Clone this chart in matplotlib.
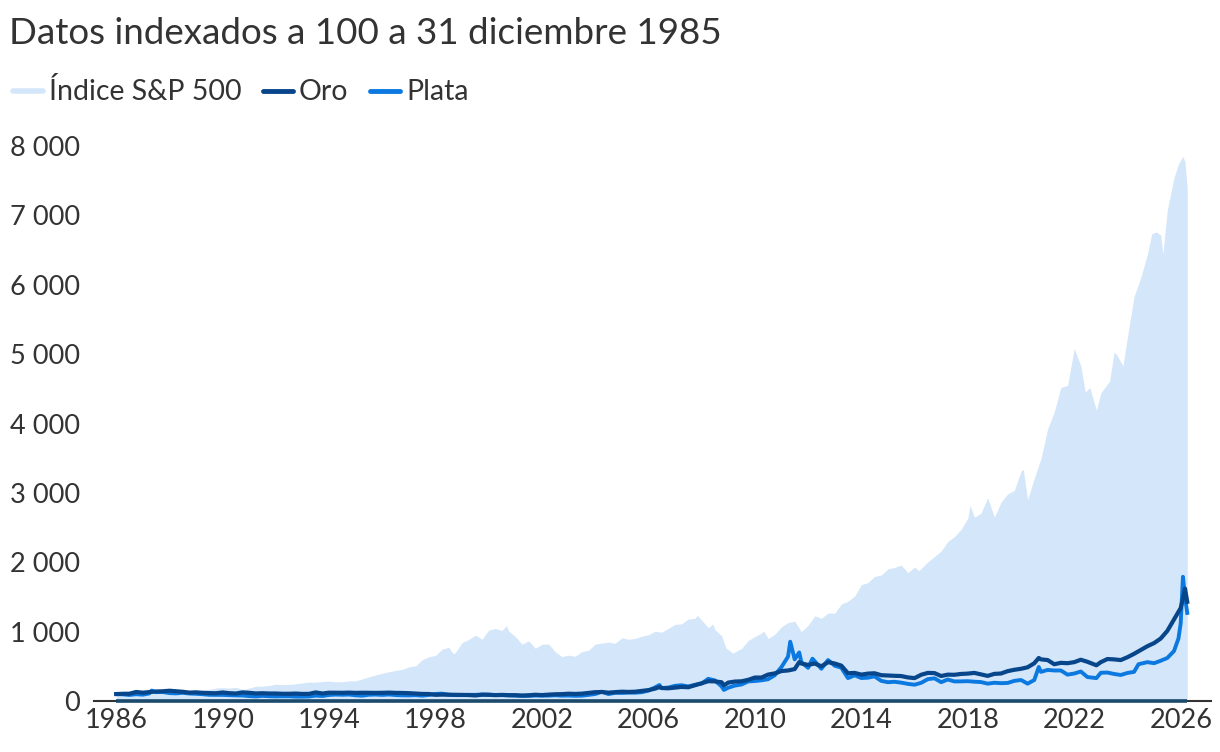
import pandas as pd
import matplotlib
matplotlib.use("Agg")
import matplotlib.pyplot as plt
from matplotlib.lines import Line2D

plt.rcParams['font.family'] = ['Lato', 'DejaVu Sans']

# month-end observations, indexed to 100 at 31 Dec 1985
spx_months = [
    "1985-12", "1986-03", "1986-06", "1986-09", "1986-12",
    "1987-03", "1987-06", "1987-08", "1987-10", "1987-12",
    "1988-03", "1988-06", "1988-09", "1988-12",
    "1989-03", "1989-06", "1989-09", "1989-12",
    "1990-03", "1990-06", "1990-09", "1990-12",
    "1991-03", "1991-06", "1991-09", "1991-12",
    "1992-03", "1992-06", "1992-09", "1992-12",
    "1993-03", "1993-06", "1993-09", "1993-12",
    "1994-03", "1994-06", "1994-09", "1994-12",
    "1995-03", "1995-06", "1995-09", "1995-12",
    "1996-03", "1996-06", "1996-09", "1996-12",
    "1997-03", "1997-06", "1997-09", "1997-12",
    "1998-03", "1998-06", "1998-08", "1998-09", "1998-12",
    "1999-03", "1999-06", "1999-09", "1999-12",
    "2000-03", "2000-06", "2000-08", "2000-09", "2000-12",
    "2001-03", "2001-06", "2001-09", "2001-12",
    "2002-03", "2002-06", "2002-09", "2002-12",
    "2003-03", "2003-06", "2003-09", "2003-12",
    "2004-03", "2004-06", "2004-09", "2004-12",
    "2005-03", "2005-06", "2005-09", "2005-12",
    "2006-03", "2006-06", "2006-09", "2006-12",
    "2007-03", "2007-06", "2007-09", "2007-10", "2007-12",
    "2008-03", "2008-05", "2008-06", "2008-09", "2008-11", "2008-12",
    "2009-02", "2009-06", "2009-09", "2009-12",
    "2010-03", "2010-04", "2010-06", "2010-09", "2010-12",
    "2011-03", "2011-06", "2011-09", "2011-12",
    "2012-03", "2012-06", "2012-09", "2012-12",
    "2013-03", "2013-06", "2013-09", "2013-12",
    "2014-03", "2014-06", "2014-09", "2014-12",
    "2015-03", "2015-06", "2015-09", "2015-12",
    "2016-02", "2016-06", "2016-09", "2016-12",
    "2017-03", "2017-06", "2017-09", "2017-12",
    "2018-01", "2018-03", "2018-06", "2018-09", "2018-12",
    "2019-03", "2019-06", "2019-09", "2019-12",
    "2020-01", "2020-03", "2020-06", "2020-09", "2020-12",
    "2021-03", "2021-06", "2021-09", "2021-12",
    "2022-03", "2022-05", "2022-07", "2022-10", "2022-12",
    "2023-04", "2023-06", "2023-07", "2023-10", "2023-12",
    "2024-03", "2024-06", "2024-09", "2024-11",
    "2025-01", "2025-03", "2025-04", "2025-06", "2025-09", "2025-11",
    "2026-01", "2026-02", "2026-03",
]
spx_values = [
    100, 114, 121, 112, 119,
    144, 151, 165, 123, 125,
    131, 140, 140, 146,
    156, 169, 187, 192,
    186, 197, 168, 186,
    213, 213, 224, 242,
    236, 240, 248, 261,
    272, 273, 280, 287,
    276, 277, 290, 291,
    318, 348, 375, 400,
    422, 441, 455, 492,
    505, 593, 637, 657,
    748, 773, 680, 700, 844,
    886, 949, 890, 1022,
    1045, 1017, 1085, 1007, 929,
    819, 867, 760, 818,
    821, 711, 640, 660,
    645, 712, 730, 820,
    834, 848, 832, 910,
    890, 902, 934, 954,
    1005, 991, 1047, 1105,
    1112, 1182, 1190, 1235, 1166,
    1055, 1110, 1027, 940, 760, 740,
    690, 756, 871, 929,
    978, 1010, 900, 963, 1069,
    1131, 1150, 1000, 1091,
    1228, 1192, 1268, 1266,
    1397, 1437, 1512, 1676,
    1706, 1795, 1815, 1905,
    1924, 1960, 1850, 1931,
    1880, 2005, 2082, 2162,
    2298, 2369, 2473, 2634,
    2820, 2650, 2705, 2930, 2650,
    2863, 2984, 3034, 3312,
    3340, 2900, 3209, 3494, 3922,
    4164, 4521, 4547, 5080,
    4830, 4450, 4520, 4190, 4440,
    4610, 5025, 5000, 4830, 5246,
    5830, 6100, 6440, 6740,
    6760, 6715, 6440, 7075, 7545, 7740,
    7850, 7770, 7380,
]

gold_months = [
    "1985-12", "1986-03", "1986-06", "1986-09", "1986-12",
    "1987-03", "1987-06", "1987-09", "1987-12",
    "1988-03", "1988-06", "1988-09", "1988-12",
    "1989-03", "1989-06", "1989-09", "1989-12",
    "1990-03", "1990-06", "1990-09", "1990-12",
    "1991-03", "1991-06", "1991-09", "1991-12",
    "1992-03", "1992-06", "1992-09", "1992-12",
    "1993-03", "1993-06", "1993-09", "1993-12",
    "1994-03", "1994-06", "1994-09", "1994-12",
    "1995-03", "1995-06", "1995-09", "1995-12",
    "1996-03", "1996-06", "1996-09", "1996-12",
    "1997-03", "1997-06", "1997-09", "1997-12",
    "1998-03", "1998-06", "1998-09", "1998-12",
    "1999-03", "1999-06", "1999-09", "1999-12",
    "2000-03", "2000-06", "2000-09", "2000-12",
    "2001-03", "2001-06", "2001-09", "2001-12",
    "2002-03", "2002-06", "2002-09", "2002-12",
    "2003-03", "2003-06", "2003-09", "2003-12",
    "2004-03", "2004-06", "2004-09", "2004-12",
    "2005-03", "2005-06", "2005-09", "2005-12",
    "2006-03", "2006-05", "2006-06", "2006-09", "2006-12",
    "2007-03", "2007-06", "2007-09", "2007-12",
    "2008-03", "2008-06", "2008-09", "2008-10", "2008-12",
    "2009-03", "2009-06", "2009-09", "2009-12",
    "2010-03", "2010-06", "2010-09", "2010-12",
    "2011-03", "2011-06", "2011-08", "2011-09", "2011-12",
    "2012-03", "2012-06", "2012-09", "2012-12",
    "2013-03", "2013-06", "2013-09", "2013-12",
    "2014-03", "2014-06", "2014-09", "2014-12",
    "2015-03", "2015-06", "2015-09", "2015-12",
    "2016-03", "2016-06", "2016-09", "2016-12",
    "2017-03", "2017-06", "2017-09", "2017-12",
    "2018-03", "2018-06", "2018-09", "2018-12",
    "2019-03", "2019-06", "2019-09", "2019-12",
    "2020-03", "2020-06", "2020-08", "2020-09", "2020-12",
    "2021-03", "2021-06", "2021-09", "2021-12",
    "2022-03", "2022-06", "2022-10", "2022-12",
    "2023-03", "2023-06", "2023-09", "2023-12",
    "2024-03", "2024-06", "2024-09", "2024-12",
    "2025-03", "2025-06", "2025-09", "2025-12",
    "2026-01", "2026-02", "2026-03",
]
gold_values = [
    100, 104, 105, 130, 120,
    128, 137, 140, 148,
    140, 133, 121, 125,
    118, 114, 112, 123,
    113, 108, 124, 118,
    109, 112, 108, 108,
    104, 104, 107, 102,
    103, 124, 108, 120,
    119, 118, 121, 117,
    119, 118, 117, 118,
    121, 117, 116, 113,
    107, 102, 101, 89,
    92, 91, 90, 88,
    86, 80, 91, 89,
    85, 88, 84, 84,
    79, 83, 90, 85,
    92, 97, 99, 105,
    102, 106, 117, 127,
    130, 120, 128, 134,
    131, 134, 145, 157,
    178, 200, 187, 183, 193,
    203, 198, 227, 255,
    285, 283, 270, 225, 266,
    280, 284, 305, 338,
    338, 381, 398, 432,
    440, 460, 560, 540, 520,
    540, 500, 560, 540,
    510, 400, 405, 380,
    395, 400, 372, 367,
    363, 360, 340, 330,
    378, 405, 402, 360,
    380, 378, 390, 395,
    405, 384, 362, 391,
    396, 430, 450, 464,
    486, 544, 620, 600, 590,
    530, 550, 545, 560,
    595, 565, 515, 560,
    605, 600, 590, 631,
    680, 735, 790, 835,
    900, 1010, 1175, 1340,
    1480, 1620, 1430,
]

silver_months = [
    "1985-12", "1986-03", "1986-06", "1986-09", "1986-12",
    "1987-03", "1987-04", "1987-06", "1987-09", "1987-12",
    "1988-03", "1988-06", "1988-09", "1988-12",
    "1989-03", "1989-06", "1989-09", "1989-12",
    "1990-03", "1990-06", "1990-09", "1990-12",
    "1991-03", "1991-06", "1991-09", "1991-12",
    "1992-03", "1992-06", "1992-09", "1992-12",
    "1993-03", "1993-06", "1993-09", "1993-12",
    "1994-03", "1994-06", "1994-09", "1994-12",
    "1995-03", "1995-06", "1995-09", "1995-12",
    "1996-03", "1996-06", "1996-09", "1996-12",
    "1997-03", "1997-06", "1997-09", "1997-12",
    "1998-03", "1998-06", "1998-09", "1998-12",
    "1999-03", "1999-06", "1999-09", "1999-12",
    "2000-03", "2000-06", "2000-09", "2000-12",
    "2001-03", "2001-06", "2001-09", "2001-12",
    "2002-03", "2002-06", "2002-09", "2002-12",
    "2003-03", "2003-06", "2003-09", "2003-12",
    "2004-03", "2004-06", "2004-09", "2004-12",
    "2005-03", "2005-06", "2005-09", "2005-12",
    "2006-03", "2006-05", "2006-06", "2006-09", "2006-12",
    "2007-03", "2007-06", "2007-09", "2007-12",
    "2008-03", "2008-06", "2008-09", "2008-10", "2008-12",
    "2009-03", "2009-06", "2009-09", "2009-12",
    "2010-03", "2010-06", "2010-09", "2010-12",
    "2011-03", "2011-04", "2011-06", "2011-08", "2011-09", "2011-12",
    "2012-02", "2012-06", "2012-09", "2012-12",
    "2013-03", "2013-06", "2013-09", "2013-12",
    "2014-03", "2014-06", "2014-09", "2014-12",
    "2015-03", "2015-06", "2015-09", "2015-12",
    "2016-03", "2016-06", "2016-09", "2016-12",
    "2017-03", "2017-06", "2017-09", "2017-12",
    "2018-03", "2018-06", "2018-09", "2018-12",
    "2019-03", "2019-06", "2019-09", "2019-12",
    "2020-03", "2020-06", "2020-08", "2020-09", "2020-12",
    "2021-03", "2021-06", "2021-09", "2021-12",
    "2022-03", "2022-06", "2022-10", "2022-12",
    "2023-03", "2023-06", "2023-09", "2023-12",
    "2024-03", "2024-05", "2024-09", "2024-12",
    "2025-03", "2025-06", "2025-09", "2025-11", "2025-12",
    "2026-01", "2026-02", "2026-03",
]
silver_values = [
    100, 96, 87, 98, 91,
    110, 150, 128, 130, 114,
    110, 118, 108, 104,
    98, 89, 88, 88,
    84, 81, 80, 71,
    66, 74, 69, 66,
    68, 68, 63, 63,
    65, 78, 72, 87,
    93, 90, 93, 82,
    77, 90, 93, 88,
    94, 86, 82, 81,
    85, 77, 88, 102,
    106, 90, 85, 85,
    89, 89, 93, 92,
    85, 85, 82, 78,
    74, 74, 79, 77,
    78, 83, 77, 79,
    75, 77, 88, 101,
    134, 100, 118, 116,
    120, 120, 127, 150,
    196, 230, 186, 194, 219,
    227, 210, 233, 251,
    320, 297, 210, 160, 192,
    222, 238, 282, 288,
    298, 314, 372, 490,
    640, 855, 600, 700, 560, 478,
    610, 465, 590, 508,
    480, 330, 370, 331,
    336, 355, 290, 271,
    277, 265, 247, 235,
    262, 315, 327, 271,
    310, 282, 283, 286,
    278, 273, 250, 263,
    257, 260, 290, 303,
    250, 302, 490, 420, 448,
    440, 440, 380, 396,
    425, 345, 330, 407,
    410, 390, 375, 404,
    420, 530, 560, 545,
    580, 620, 720, 900, 1120,
    1790, 1500, 1270,
]

tick_years = [1986, 1990, 1994, 1998, 2002, 2006, 2010, 2014, 2018, 2022, 2026]
y_ticks = [0, 1000, 2000, 3000, 4000, 5000, 6000, 7000, 8000]


def month_end(months):
    return pd.to_datetime(months, format="%Y-%m") + pd.offsets.MonthEnd(0)


spx_x = month_end(spx_months)
gold_x = month_end(gold_months)
silver_x = month_end(silver_months)

c_fill = "#d4e6f9"
c_gold = "#07468a"
c_silver = "#0b79e0"
c_text = "#333333"

fig = plt.figure(figsize=(12.2, 7.52), dpi=100)
ax = fig.add_axes([94 / 1220, 1 - 701 / 752, (1211 - 94) / 1220, (701 - 146) / 752])

ax.fill_between(spx_x, spx_values, 0, color=c_fill, lw=0, zorder=1)
ax.plot(silver_x, silver_values, color=c_silver, lw=2.8, zorder=3, solid_joinstyle="round")
ax.plot(gold_x, gold_values, color=c_gold, lw=3.0, zorder=4, solid_joinstyle="round")
ax.hlines(0, spx_x[0], spx_x[-1], color="#1b4a6c", lw=2.6, zorder=5, clip_on=False)

ax.set_ylim(0, 8000)
ax.set_xlim(pd.Timestamp("1985-03-01"), pd.Timestamp("2027-02-20"))
ax.set_yticks(y_ticks)
ax.set_yticklabels([f"{v:,}".replace(",", " ") for v in y_ticks])
ax.set_xticks([pd.Timestamp(f"{y}-01-01") for y in tick_years])
ax.set_xticklabels([str(y) for y in tick_years])
ax.tick_params(axis="y", length=0, pad=10, labelsize=19.5, labelcolor=c_text)
ax.tick_params(axis="x", length=0, pad=5, labelsize=19.5, labelcolor=c_text)

for s in ["top", "right", "left"]:
    ax.spines[s].set_visible(False)
ax.spines["bottom"].set_color(c_text)
ax.spines["bottom"].set_linewidth(1.5)
ax.spines["bottom"].set_zorder(2)

fig.text(9 / 1220, 1 - 34 / 752, "Datos indexados a 100 a 31 diciembre 1985",
         fontsize=26.5, color=c_text, va="center", ha="left")

handles = [
    Line2D([], [], color=c_fill, lw=4, solid_capstyle="round"),
    Line2D([], [], color=c_gold, lw=3.5, solid_capstyle="round"),
    Line2D([], [], color=c_silver, lw=3.5, solid_capstyle="round"),
]
fig.legend(handles, ["Índice S&P 500", "Oro", "Plata"], loc="center left",
           bbox_to_anchor=(-0.006, 1 - 92 / 752), ncol=3, frameon=False,
           fontsize=20.5, handlelength=1.05, handletextpad=0.22, columnspacing=0.75,
           labelcolor=c_text, borderaxespad=0.3)

fig.savefig("out.png", dpi=100)
